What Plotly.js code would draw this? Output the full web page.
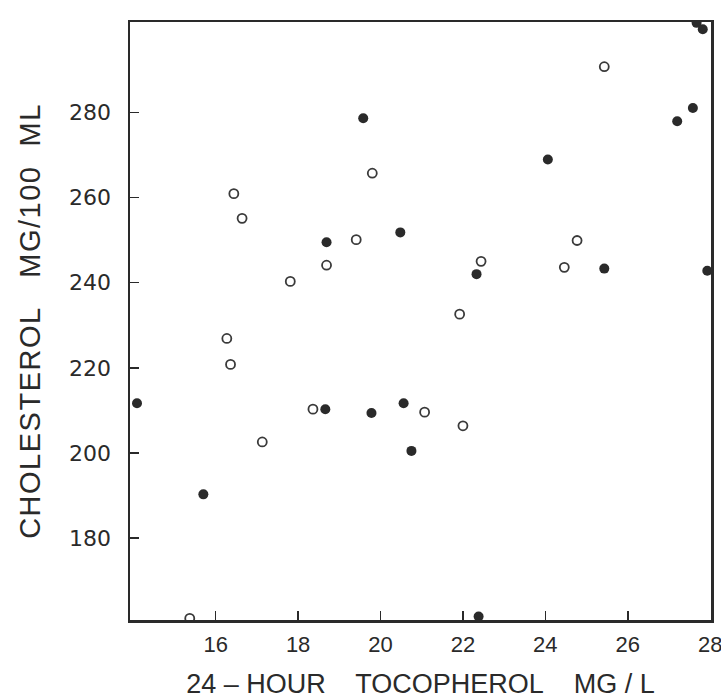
<!DOCTYPE html>
<html>
<head>
<meta charset="utf-8">
<script src="https://cdn.plot.ly/plotly-3.0.1.min.js"></script>
<style>
  html, body { margin: 0; padding: 0; background: #ffffff; }
  #chart { width: 721px; height: 699px; }
  .ytitle { letter-spacing: 1.5px; }
</style>
</head>
<body>
<div id="chart"></div>
<script>
// Filled circles
var filledX = [19.58, 18.69, 20.48, 27.67, 27.82, 27.58, 27.20, 24.06, 22.33, 25.43, 27.93, 14.09, 18.66, 19.78, 20.56, 20.75, 15.70, 22.38];
var filledY = [278.6, 249.5, 251.8, 301.0, 299.5, 281.0, 277.9, 268.9, 242.0, 243.3, 242.8, 211.7, 210.3, 209.4, 211.7, 200.5, 190.3, 161.6];

// Open circles
var openX = [19.80, 16.44, 16.64, 19.41, 18.69, 17.81, 25.43, 24.77, 22.44, 24.46, 21.92, 16.27, 16.36, 18.36, 21.07, 17.13, 22.00, 15.37];
var openY = [265.7, 260.9, 255.1, 250.1, 244.1, 240.3, 290.7, 249.9, 245.0, 243.6, 232.6, 226.9, 220.8, 210.3, 209.6, 202.6, 206.4, 161.2];

var xTicks = [16, 18, 20, 22, 24, 26, 28];
var yTicks = [180, 200, 220, 240, 260, 280];

var ink = '#2a2a2a';

var traces = [
  {
    x: filledX, y: filledY, type: 'scatter', mode: 'markers', name: 'filled',
    marker: { symbol: 'circle', size: 10, color: ink, line: { width: 0 } }
  },
  {
    x: openX, y: openY, type: 'scatter', mode: 'markers', name: 'open',
    marker: { symbol: 'circle-open', size: 9, color: '#3a3a3a', line: { width: 1.8, color: '#3a3a3a' } }
  }
];

var layout = {
  width: 721, height: 699,
  margin: { l: 130, r: 10, t: 22, b: 79 },
  paper_bgcolor: '#ffffff', plot_bgcolor: '#ffffff',
  showlegend: false,
  font: { family: 'Liberation Sans, Arial, sans-serif', color: '#2a2a2a' },
  xaxis: {
    range: [13.92, 28.02],
    tickmode: 'array', tickvals: xTicks, ticktext: xTicks.map(String),
    ticks: 'inside', ticklen: 9, tickwidth: 1.5, tickcolor: ink,
    showline: true, linewidth: 2.5, linecolor: ink, mirror: true,
    showgrid: false, zeroline: false,
    tickfont: { family: 'Liberation Sans, Arial, sans-serif', size: 22, color: '#2a2a2a' },
    ticklabelstandoff: 3,
    ticklabeloverflow: 'allow',
    title: { text: '24\u00A0– HOUR\u00A0\u00A0\u00A0 TOCOPHEROL\u00A0\u00A0\u00A0 MG / L', font: { family: 'Liberation Sans, Arial, sans-serif', size: 27, color: '#2a2a2a' }, standoff: 22 }
  },
  yaxis: {
    range: [160.8, 301.2],
    tickmode: 'array', tickvals: yTicks, ticktext: yTicks.map(String),
    ticks: 'inside', ticklen: 9, tickwidth: 1.5, tickcolor: ink,
    showline: true, linewidth: 2.5, linecolor: ink, mirror: true,
    showgrid: false, zeroline: false,
    tickfont: { family: 'DejaVu Sans, sans-serif', size: 22, color: '#2a2a2a' },
    ticklabelstandoff: 12,
    title: { text: 'CHOLESTEROL\u00A0\u00A0 MG/100\u00A0\u00A0ML', font: { family: 'Liberation Sans, Arial, sans-serif', size: 29, color: '#2a2a2a' }, standoff: 20 }
  }
};

Plotly.newPlot('chart', traces, layout, { displayModeBar: false, staticPlot: true });
</script>
</body>
</html>
